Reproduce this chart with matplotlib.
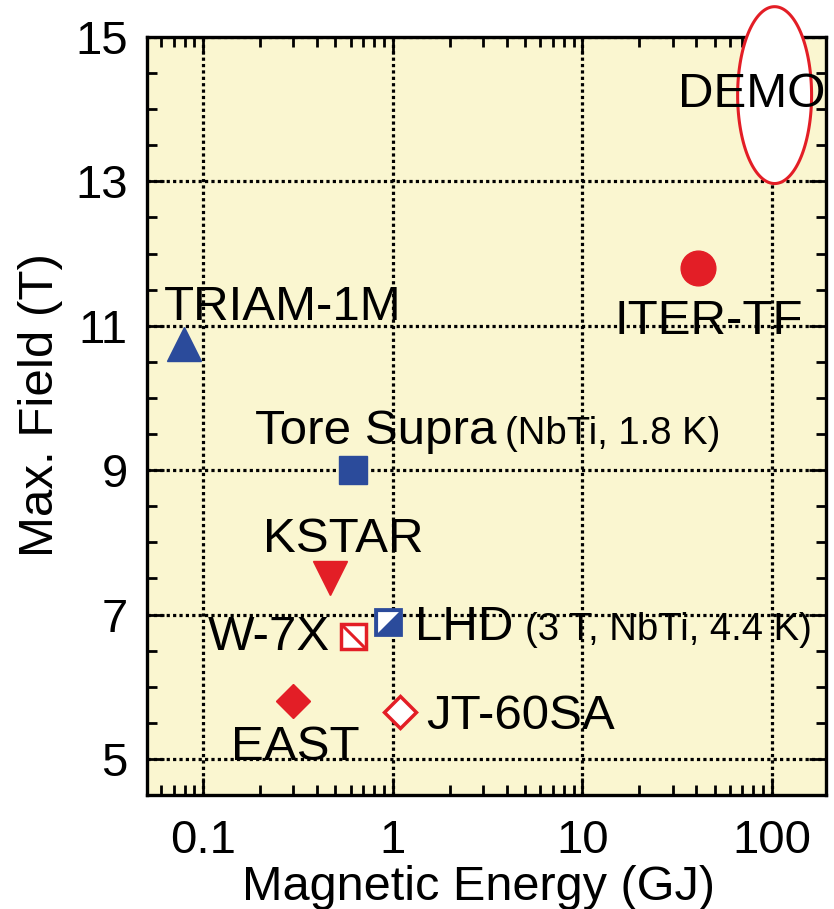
import numpy as np
import matplotlib
matplotlib.use("Agg")
import matplotlib.pyplot as plt
from matplotlib.path import Path
from matplotlib.ticker import FixedLocator, MultipleLocator, LogLocator, NullFormatter

plt.rcParams["font.family"] = ["Liberation Sans", "DejaVu Sans"]

BLUE = "#2b4b9b"
RED = "#e31e26"
BG = "#faf6d0"

# device data: stored energy (GJ) and max field (T)
triam_e, triam_b = 0.079, 10.75
tore_e, tore_b = 0.62, 9.0
kstar_e, kstar_b = 0.47, 7.5
lhd_e, lhd_b = 0.95, 6.9
w7x_e, w7x_b = 0.62, 6.7
east_e, east_b = 0.30, 5.8
jt60_e, jt60_b = 1.09, 5.65
iter_e, iter_b = 41.0, 11.8
# DEMO range: energy 66-162 GJ, field 13-15.4 T
demo_e = [66.0, 162.0]
demo_b = [12.97, 15.42]

x_ticks = [0.1, 1, 10, 100]
x_labels = ["0.1", "1", "10", "100"]
y_ticks = [5, 7, 9, 11, 13, 15]

fig = plt.figure(figsize=(8.34, 9.09), dpi=100)
ax = fig.add_axes([147 / 834, 114 / 909, 679 / 834, 758 / 909])
ax.set_facecolor(BG)
ax.set_xscale("log")
ax.set_xlim(0.0507, 193)
ax.set_ylim(4.5, 15)

ax.xaxis.set_major_locator(FixedLocator(x_ticks))
ax.set_xticklabels(x_labels)
ax.xaxis.set_minor_locator(LogLocator(base=10, subs=np.arange(2, 10)))
ax.xaxis.set_minor_formatter(NullFormatter())
ax.yaxis.set_major_locator(FixedLocator(y_ticks))
ax.yaxis.set_minor_locator(MultipleLocator(0.5))

ax.tick_params(which="both", direction="in", top=True, right=True,
               labelsize=34, width=2, color="black")
ax.tick_params(which="major", length=12, pad=14)
ax.tick_params(axis="x", which="major", pad=17)
ax.tick_params(which="minor", length=7)
for s in ax.spines.values():
    s.set_linewidth(2.4)

ax.grid(True, which="major", color="black", linestyle=(0, (1, 1)), linewidth=2.3)
ax.set_axisbelow(True)

ax.set_xlabel("Magnetic Energy (GJ)", fontsize=35, labelpad=0)
ax.set_ylabel("Max. Field (T)", fontsize=35.5, labelpad=5)
ax.xaxis.set_label_coords(0.4875, -0.092)
ax.yaxis.set_label_coords(-0.123, 0.514)

# markers
ax.plot(triam_e, triam_b, marker="^", ms=24, color=BLUE, mec=BLUE, zorder=4)
ax.plot(tore_e, tore_b, marker="s", ms=20, color=BLUE, mec=BLUE, zorder=4)
ax.plot(kstar_e, kstar_b, marker="v", ms=24, color=RED, mec=RED, zorder=4)
ax.plot(east_e, east_b, marker="D", ms=17, color=RED, mec=RED, zorder=4)
ax.plot(jt60_e, jt60_b, marker="D", ms=16, mfc="white", mec=RED, mew=2.5, zorder=4)
ax.plot(iter_e, iter_b, marker="o", ms=25, color=RED, mec=RED, zorder=4)

# LHD: half-filled square, diagonal split
upper_left = Path([(-0.5, -0.5), (-0.5, 0.5), (0.5, 0.5), (-0.5, -0.5)])
ax.plot(lhd_e, lhd_b, marker="s", ms=19, color=BLUE, mec=BLUE, mew=2, zorder=4)
ax.plot(lhd_e, lhd_b, marker=upper_left, ms=15, color="white", mec="none", zorder=4)

# W-7X: open square with diagonal line
diag = Path([(-0.5, 0.5), (0.5, -0.5)])
ax.plot(w7x_e, w7x_b, marker="s", ms=18, mfc="white", mec=RED, mew=2.5, zorder=4)
ax.plot(w7x_e, w7x_b, marker=diag, ms=18, mec=RED, mew=2.2, zorder=4)

# DEMO ellipse in log-x space
t = np.linspace(0, 2 * np.pi, 200)
lx = np.log10(demo_e)
cx, rx = lx.mean(), (lx[1] - lx[0]) / 2
cy, ry = np.mean(demo_b), (demo_b[1] - demo_b[0]) / 2
ax.fill(10 ** (cx + rx * np.cos(t)), cy + ry * np.sin(t), facecolor="white",
        edgecolor=RED, linewidth=2.2, clip_on=False, zorder=5)

big = dict(fontsize=35.5, textcoords="offset pixels", zorder=6)
small = dict(fontsize=27.5, textcoords="offset pixels", zorder=6)
ax.annotate("TRIAM-1M", (triam_e, triam_b), xytext=(-20, 36), ha="left", va="center", **big)
ax.annotate("Tore Supra", (tore_e, tore_b), xytext=(-98, 26), ha="left", va="baseline", **big)
ax.annotate("(NbTi, 1.8 K)", (tore_e, tore_b), xytext=(152, 26), ha="left", va="baseline", **small)
ax.annotate("KSTAR", (kstar_e, kstar_b), xytext=(-67, 39), ha="left", va="center", **big)
ax.annotate("LHD", (lhd_e, lhd_b), xytext=(27, -18), ha="left", va="baseline", **big)
ax.annotate("(3 T, NbTi, 4.4 K)", (lhd_e, lhd_b), xytext=(137, -18), ha="left", va="baseline", **small)
ax.annotate("W-7X", (w7x_e, w7x_b), xytext=(-23, -1), ha="right", va="center", **big)
ax.annotate("EAST", (east_e, east_b), xytext=(-62, -46), ha="left", va="center", **big)
ax.annotate("JT-60SA", (jt60_e, jt60_b), xytext=(27, -5), ha="left", va="center", **big)
ax.annotate("ITER-TF", (iter_e, iter_b), xytext=(-84, -53), ha="left", va="center", **big)
ax.annotate("DEMO", (10 ** cx, cy), xytext=(-97, 1), ha="left", va="center",
            annotation_clip=False, **big)

fig.savefig("out.png", dpi=100)
